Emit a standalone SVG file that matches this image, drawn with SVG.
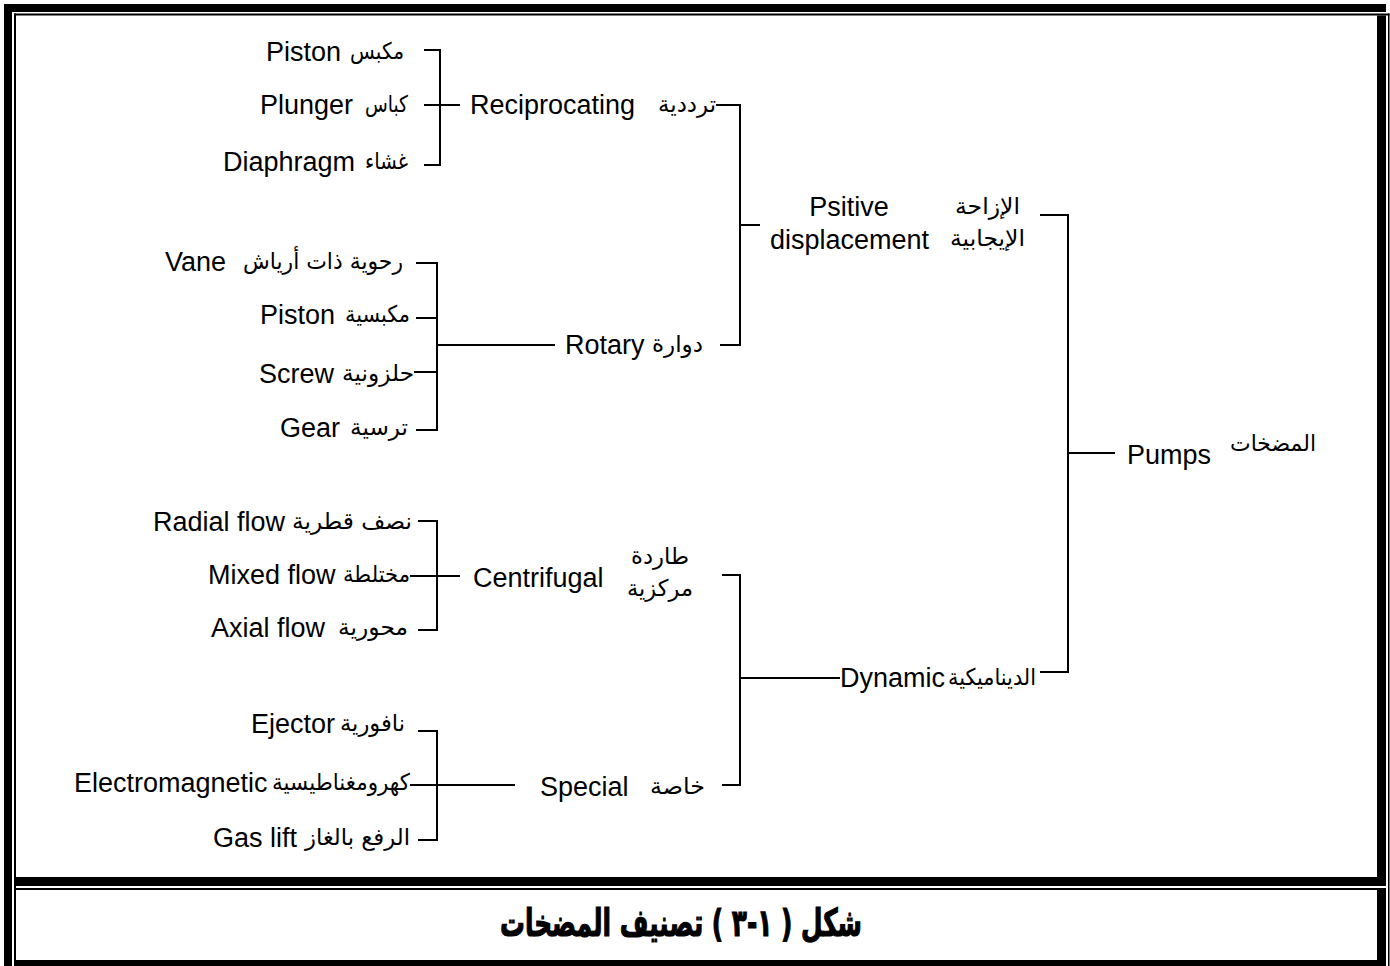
<svg xmlns="http://www.w3.org/2000/svg" width="1390" height="966" viewBox="0 0 1390 966">
<style>
.en{font-family:"Liberation Sans",Arial,sans-serif;font-size:27px;fill:#000}
.ar{font-family:"DejaVu Sans","Noto Sans",sans-serif;font-size:23px;fill:#000}
.cap{font-family:"DejaVu Sans","Noto Sans",sans-serif;font-size:38px;font-weight:bold;fill:#000;stroke:#000;stroke-width:1.2}
.ln{fill:none;stroke:#000;stroke-width:2}
</style>
<rect width="1390" height="966" fill="#fff"/>
<g id="frame" fill="#000">
<rect x="4" y="4" width="8" height="962"/>
<rect x="4" y="4" width="1382" height="8"/>
<rect x="14" y="13.5" width="1375.5" height="2"/>
<rect x="1388" y="13.5" width="1.5" height="952.5"/>
<rect x="14" y="13.5" width="2" height="952.5"/>
<rect x="1377" y="15.5" width="9" height="870.5"/>
<rect x="16" y="877" width="1370" height="9"/>
<rect x="16" y="888" width="1370" height="2"/>
<rect x="1377" y="888" width="9" height="78"/>
<rect x="16" y="960" width="1370" height="6"/>
</g>
<g id="connectors" class="ln">
<path d="M424 50H440V165H424M424 105H460"/>
<path d="M716 105H740V345H720M740 225H760"/>
<path d="M1040 215H1068V672H1040M1068 453H1115"/>
<path d="M416 263H437V430H416M416 318H437M414 372H437M437 345H555"/>
<path d="M418 521H437V630H418M410 576H460"/>
<path d="M722 575H740V785H722M740 678H840"/>
<path d="M418 731H437V840H418M410 785H515"/>
</g>
<g id="n-pumps"><text class="en" x="1127" y="464">Pumps</text><text class="ar" x="1316" y="451" text-anchor="end" textLength="86" lengthAdjust="spacingAndGlyphs">المضخات</text></g>
<g id="n-positive"><text class="en" x="849" y="216" text-anchor="middle">Psitive</text><text class="en" x="770" y="249">displacement</text><text class="ar" x="1020" y="214" text-anchor="end" textLength="65" lengthAdjust="spacingAndGlyphs">الإزاحة</text><text class="ar" x="1025" y="246" text-anchor="end" textLength="75" lengthAdjust="spacingAndGlyphs">الإيجابية</text></g>
<g id="n-dynamic"><text class="en" x="840" y="687">Dynamic</text><text class="ar" x="1036" y="685" text-anchor="end" textLength="88" lengthAdjust="spacingAndGlyphs">الديناميكية</text></g>
<g id="n-reciprocating"><text class="en" x="470" y="114">Reciprocating</text><text class="ar" x="716" y="112" text-anchor="end" textLength="58" lengthAdjust="spacingAndGlyphs">ترددية</text></g>
<g id="n-rotary"><text class="en" x="565" y="354">Rotary</text><text class="ar" x="703" y="352" text-anchor="end" textLength="51" lengthAdjust="spacingAndGlyphs">دوارة</text></g>
<g id="n-centrifugal"><text class="en" x="473" y="587">Centrifugal</text><text class="ar" x="660" y="564" text-anchor="middle" textLength="58" lengthAdjust="spacingAndGlyphs">طاردة</text><text class="ar" x="660" y="596" text-anchor="middle" textLength="66" lengthAdjust="spacingAndGlyphs">مركزية</text></g>
<g id="n-special"><text class="en" x="540" y="796">Special</text><text class="ar" x="705" y="794" text-anchor="end" textLength="55" lengthAdjust="spacingAndGlyphs">خاصة</text></g>
<g id="n-piston1"><text class="en" x="266" y="61">Piston</text><text class="ar" x="404" y="59" text-anchor="end" textLength="54" lengthAdjust="spacingAndGlyphs">مكبس</text></g>
<g id="n-plunger"><text class="en" x="260" y="114">Plunger</text><text class="ar" x="408" y="112" text-anchor="end" textLength="43" lengthAdjust="spacingAndGlyphs">كباس</text></g>
<g id="n-diaphragm"><text class="en" x="223" y="171">Diaphragm</text><text class="ar" x="408" y="169" text-anchor="end" textLength="43" lengthAdjust="spacingAndGlyphs">غشاء</text></g>
<g id="n-vane"><text class="en" x="165" y="271">Vane</text><text class="ar" x="403" y="269" text-anchor="end" textLength="160" lengthAdjust="spacingAndGlyphs">رحوية ذات أرياش</text></g>
<g id="n-piston2"><text class="en" x="260" y="324">Piston</text><text class="ar" x="410" y="322" text-anchor="end" textLength="65" lengthAdjust="spacingAndGlyphs">مكبسية</text></g>
<g id="n-screw"><text class="en" x="259" y="383">Screw</text><text class="ar" x="414" y="381" text-anchor="end" textLength="72" lengthAdjust="spacingAndGlyphs">حلزونية</text></g>
<g id="n-gear"><text class="en" x="280" y="437">Gear</text><text class="ar" x="408" y="435" text-anchor="end" textLength="58" lengthAdjust="spacingAndGlyphs">ترسية</text></g>
<g id="n-radial"><text class="en" x="153" y="531">Radial flow</text><text class="ar" x="412" y="529" text-anchor="end" textLength="120" lengthAdjust="spacingAndGlyphs">نصف قطرية</text></g>
<g id="n-mixed"><text class="en" x="208" y="584">Mixed flow</text><text class="ar" x="410" y="582" text-anchor="end" textLength="67" lengthAdjust="spacingAndGlyphs">مختلطة</text></g>
<g id="n-axial"><text class="en" x="211" y="637">Axial flow</text><text class="ar" x="408" y="635" text-anchor="end" textLength="70" lengthAdjust="spacingAndGlyphs">محورية</text></g>
<g id="n-ejector"><text class="en" x="251" y="733">Ejector</text><text class="ar" x="405" y="731" text-anchor="end" textLength="65" lengthAdjust="spacingAndGlyphs">نافورية</text></g>
<g id="n-electromagnetic"><text class="en" x="74" y="792">Electromagnetic</text><text class="ar" x="410" y="790" text-anchor="end" textLength="138" lengthAdjust="spacingAndGlyphs">كهرومغناطيسية</text></g>
<g id="n-gaslift"><text class="en" x="213" y="847">Gas lift</text><text class="ar" x="410" y="845" text-anchor="end" textLength="105" lengthAdjust="spacingAndGlyphs">الرفع بالغاز</text></g>
<g id="caption"><text class="cap" x="681" y="936" text-anchor="middle" direction="rtl" textLength="362" lengthAdjust="spacingAndGlyphs">شكل ( ١-٣ ) تصنيف المضخات</text></g>
</svg>
